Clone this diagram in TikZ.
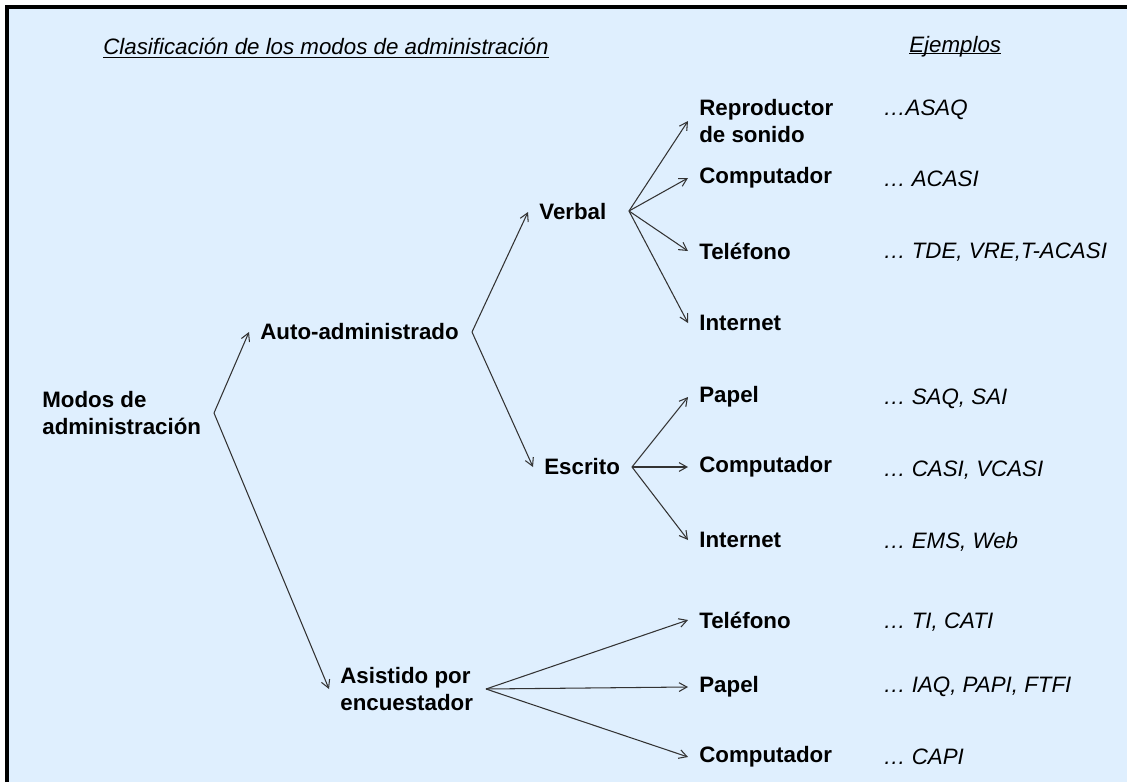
\documentclass[tikz,border=0pt]{standalone}
\usepackage{fontspec}
\setmainfont{Liberation Sans}
\usetikzlibrary{arrows.meta}
\definecolor{fondo}{RGB}{223,239,254}

\begin{document}
\begin{tikzpicture}[x=0.02cm,y=-0.02cm,
    >={Straight Barb[length=4.5pt,width=5pt]},
    modo/.style={anchor=west,inner xsep=0.22cm,inner ysep=0pt,align=left,font=\fontsize{12.7}{15.3}\selectfont\bfseries},
    ejemplo/.style={anchor=base west,inner sep=0pt,font=\fontsize{12.7}{15.3}\selectfont\itshape},
    flecha/.style={->,draw=black!80,line width=0.6pt}]
    \useasboundingbox (0,0) rectangle (1127,782);
    \fill[fondo] (7,7) rectangle (1127,782);
    \draw[line width=2.3pt] (7,782)--(7,7)--(1127,7);
    % encabezados
    \node[ejemplo] (titulo) at (103,54) {Clasificación de los modos de administración};
    \node[ejemplo] (ejemplos) at (909,52) {Ejemplos};
    \draw[line width=1.1pt] ([yshift=-0.07cm]titulo.base west)--([yshift=-0.07cm]titulo.base east);
    \draw[line width=1.1pt] ([yshift=-0.03cm]ejemplos.base west)--([yshift=-0.03cm]ejemplos.base east);
    % arbol
    \node[modo,inner xsep=0pt] (modos) at (42,413) {Modos de\\administración};
    \node[modo] (auto) at (249,332) {Auto-administrado};
    \node[modo] (asist) at (329,689) {Asistido por\\encuestador};
    \node[modo] (verbal) at (528,212) {Verbal};
    \node[modo] (escrito) at (533,467) {Escrito};
    \node[modo] (rep) at (688,121) {Reproductor\\de sonido};
    \node[modo] (compv) at (688,178) {Computador};
    \node[modo] (telv) at (688,251) {Teléfono};
    \node[modo] (intv) at (688,323) {Internet};
    \node[modo] (papel) at (688,397) {Papel};
    \node[modo] (compe) at (688,467) {Computador};
    \node[modo] (inte) at (688,540) {Internet};
    \node[modo] (tela) at (688,620) {Teléfono};
    \node[modo] (papa) at (688,687) {Papel};
    \node[modo] (compa) at (688,757) {Computador};
    \coordinate (pmodos) at (214,413);
    \coordinate (pauto) at (472,332);
    \coordinate (pverbal) at (629,211);
    \coordinate (pescrito) at (632,467);
    \coordinate (pasist) at (486,689);
    \draw[flecha] (pmodos)--(auto.west);
    \draw[flecha] (pmodos)--(asist.west);
    \draw[flecha] (pauto)--(verbal.west);
    \draw[flecha] (pauto)--(escrito.west);
    \draw[flecha] (pverbal)--(rep.west);
    \draw[flecha] (pverbal)--(compv.west);
    \draw[flecha] (pverbal)--(telv.west);
    \draw[flecha] (pverbal)--(intv.west);
    \draw[flecha] (pescrito)--(papel.west);
    \draw[flecha] (pescrito)--(compe.west);
    \draw[flecha] (pescrito)--(inte.west);
    \draw[flecha] (pasist)--(tela.west);
    \draw[flecha] (pasist)--(papa.west);
    \draw[flecha] (pasist)--(compa.west);
    % ejemplos
    \node[ejemplo] (e1) at (883,115) {…ASAQ};
    \node[ejemplo] (e2) at (883,186) {… ACASI};
    \node[ejemplo] (e3) at (883,258) {… TDE, VRE,T-ACASI};
    \node[ejemplo] (e4) at (883,404) {… SAQ, SAI};
    \node[ejemplo] (e5) at (883,476) {… CASI, VCASI};
    \node[ejemplo] (e6) at (883,548) {… EMS, Web};
    \node[ejemplo] (e7) at (883,628) {… TI, CATI};
    \node[ejemplo] (e8) at (883,692) {… IAQ, PAPI, FTFI};
    \node[ejemplo] (e9) at (883,764) {… CAPI};
\end{tikzpicture}
\end{document}
